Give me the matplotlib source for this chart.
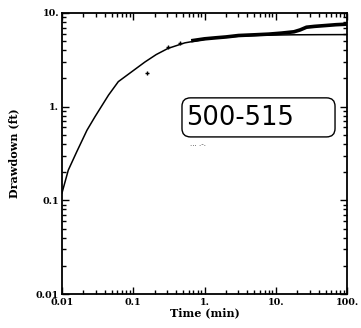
import matplotlib
matplotlib.use("Agg")
import matplotlib.pyplot as plt
from matplotlib.patches import FancyBboxPatch
from matplotlib.ticker import FixedLocator, FixedFormatter, LogLocator, NullFormatter

# Model (type) curve
t_model = [0.01, 0.01225, 0.0161, 0.0224, 0.029, 0.045, 0.0617, 0.146, 0.21, 0.308, 0.53,
           1.19, 3, 6, 17, 40, 100]
s_model = [0.12, 0.21, 0.33, 0.56, 0.78, 1.33, 1.85, 3.0, 3.6, 4.19, 4.8,
           5.35, 5.65, 5.78, 5.85, 5.87, 5.88]

# Observed data: isolated early points
t_pts = [0.155, 0.31, 0.45]
s_pts = [2.26, 4.3, 4.75]

# Observed data: dense record
t_obs = [0.65, 1.0, 1.5, 2, 3, 5, 8, 12, 18, 22, 27, 35, 50, 70, 100]
s_obs = [5.05, 5.3, 5.45, 5.55, 5.75, 5.85, 5.95, 6.1, 6.3, 6.6, 7.05, 7.2, 7.35, 7.5, 7.6]

x_ticks = [0.01, 0.1, 1, 10, 100]
x_labels = ["0.01", "0.1", "1.", "10.", "100."]
y_ticks = [0.01, 0.1, 1, 10]
y_labels = ["0.01", "0.1", "1.", "10."]

fig = plt.figure(figsize=(3.61, 3.28), dpi=100)
ax = fig.add_axes([62/361, 1-294/328, 285/361, 281/328])
ax.set_xscale("log")
ax.set_yscale("log")
ax.set_xlim(0.01, 100)
ax.set_ylim(0.01, 10)

ax.plot(t_model, s_model, color="black", lw=1.1)
ax.plot(t_obs, s_obs, color="black", lw=2.6, solid_capstyle="butt")
ax.plot(t_pts, s_pts, "+", color="black", ms=3.5, mew=1.0)

ax.xaxis.set_major_locator(FixedLocator(x_ticks))
ax.xaxis.set_major_formatter(FixedFormatter(x_labels))
ax.yaxis.set_major_locator(FixedLocator(y_ticks))
ax.yaxis.set_major_formatter(FixedFormatter(y_labels))
ax.xaxis.set_minor_locator(LogLocator(base=10, subs=range(2, 10)))
ax.yaxis.set_minor_locator(LogLocator(base=10, subs=range(2, 10)))
ax.xaxis.set_minor_formatter(NullFormatter())
ax.yaxis.set_minor_formatter(NullFormatter())
ax.tick_params(which="both", direction="in", top=True, right=True, width=1.0)
ax.tick_params(which="major", length=5)
ax.tick_params(axis="x", which="major", pad=3)
ax.tick_params(axis="y", which="major", pad=2)
ax.tick_params(which="minor", length=3)
for lab in ax.get_xticklabels() + ax.get_yticklabels():
    lab.set_fontfamily("DejaVu Serif")
    lab.set_fontweight("bold")
    lab.set_fontsize(6.8)
for sp in ax.spines.values():
    sp.set_linewidth(1.3)

ax.set_xlabel("Time (min)", fontfamily="DejaVu Serif", fontweight="bold", fontsize=8, labelpad=0)
ax.set_ylabel("Drawdown (ft)", fontfamily="DejaVu Serif", fontweight="bold", fontsize=8, labelpad=12)

box = FancyBboxPatch((0.421, 0.559), 0.958-0.421, 0.698-0.559,
                     boxstyle="round,pad=0,rounding_size=0.03",
                     transform=ax.transAxes, fc="white", ec="black", lw=1.0)
ax.add_patch(box)
ax.text(0.435, 0.628, "500-515", transform=ax.transAxes, ha="left", va="center",
        fontsize=18.5, family="DejaVu Sans")
ax.text(0.45, 0.535, "... .-.", transform=ax.transAxes, ha="left", va="center",
        fontsize=5, color="#444444")

fig.savefig("out.png", dpi=100)
